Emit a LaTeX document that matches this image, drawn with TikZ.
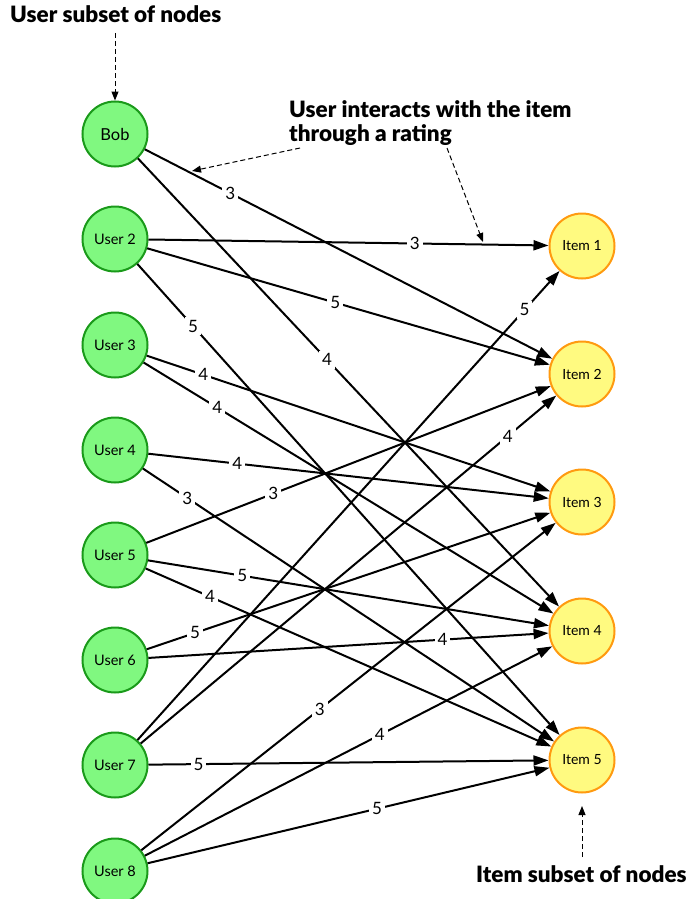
\documentclass[tikz,border=0pt]{standalone}
\usepackage{fontspec}
\setmainfont{Lato}
\newfontfamily\heavyfont{Lato Black}
\usetikzlibrary{arrows.meta}
\definecolor{usrfill}{HTML}{80F880}
\definecolor{usrdraw}{HTML}{1A9A1A}
\definecolor{itmfill}{HTML}{FFFA80}
\definecolor{itmdraw}{HTML}{FF9A10}
\tikzset{
  usr/.style={circle, minimum size=65pt, inner sep=0pt, line width=2pt,
    draw=usrdraw, fill=usrfill, font=\fontsize{14.5}{16}\selectfont},
  itm/.style={circle, minimum size=65pt, inner sep=0pt, line width=2pt,
    draw=itmdraw, fill=itmfill, font=\fontsize{14}{16}\selectfont},
  rating/.style={line width=2pt, -{Triangle[length=15pt,width=10pt]}},
  lbl/.style={fill=white, inner sep=3pt, font=\fontsize{17}{19}\selectfont},
  note/.style={font=\heavyfont\fontsize{22.5}{23.5}\selectfont, inner sep=0pt},
  pointer/.style={dashed, line width=1pt, dash pattern=on 5pt off 3pt,
    -{Triangle[length=9pt,width=7pt]}},
}
\begin{document}
\begin{tikzpicture}[x=1pt,y=-1pt]
\useasboundingbox (0,0) rectangle (690,899);

% users (left column)
\node[usr, font=\fontsize{16.5}{18}\selectfont] (bob) at (115,134) {Bob};
\node[usr] (u2) at (115,239) {User 2};
\node[usr] (u3) at (115,345) {User 3};
\node[usr] (u4) at (115,450) {User 4};
\node[usr] (u5) at (115,555) {User 5};
\node[usr] (u6) at (115,660) {User 6};
\node[usr] (u7) at (115,765) {User 7};
\node[usr] (u8) at (115,871) {User 8};

% items (right column)
\node[itm] (i1) at (582,246) {Item 1};
\node[itm] (i2) at (582,374) {Item 2};
\node[itm] (i3) at (582,502) {Item 3};
\node[itm] (i4) at (582,631) {Item 4};
\node[itm] (i5) at (582,760) {Item 5};

% ratings
\draw[rating] (bob) -- node[lbl,pos=0.21] {3} (i2);
\draw[rating] (bob) -- node[lbl,pos=0.449] {4} (i4);
\draw[rating] (u2) -- node[lbl,pos=0.666] {3} (i1);
\draw[rating] (u2) -- node[lbl,pos=0.467] {5} (i2);
\draw[rating] (u2) -- node[lbl,pos=0.132] {5} (i5);
\draw[rating] (u3) -- node[lbl,pos=0.14] {4} (i3);
\draw[rating] (u3) -- node[lbl,pos=0.18] {4} (i4);
\draw[rating] (u4) -- node[lbl,pos=0.222] {4} (i3);
\draw[rating] (u4) -- node[lbl,pos=0.108] {3} (i5);
\draw[rating] (u5) -- node[lbl,pos=0.314] {3} (i2);
\draw[rating] (u5) -- node[lbl,pos=0.235] {5} (i4);
\draw[rating] (u5) -- node[lbl,pos=0.159] {4} (i5);
\draw[rating] (u6) -- node[lbl,pos=0.12] {5} (i3);
\draw[rating] (u6) -- node[lbl,pos=0.735] {4} (i4);
\draw[rating] (u7) -- node[lbl,pos=0.917] {5} (i1);
\draw[rating] (u7) -- node[lbl,pos=0.883] {4} (i2);
\draw[rating] (u7) -- node[lbl,pos=0.125] {5} (i5);
\draw[rating] (u8) -- node[lbl,pos=0.431] {3} (i3);
\draw[rating] (u8) -- node[lbl,pos=0.577] {4} (i4);
\draw[rating] (u8) -- node[lbl,pos=0.571] {5} (i5);

% annotations
\node[note, anchor=base west] (usernote) at (10,23) {User subset of nodes};
\coordinate (usertail) at (115,33);
\draw[pointer] (usertail) -- (bob.north);

\node[note, anchor=north west, align=left] (ratenote) at (289,100.5)
  {User interacts with the item\\through a rating};
\coordinate (ratetailA) at (300,148);
\coordinate (ratetipA) at (192,171);
\coordinate (ratetailB) at (447,148);
\coordinate (ratetipB) at (483,242);
\draw[pointer] (ratetailA) -- (ratetipA);
\draw[pointer] (ratetailB) -- (ratetipB);

\node[note, anchor=base west] (itemnote) at (476,882) {Item subset of nodes};
\coordinate (itemtail) at (582,857);
\coordinate (itemtip) at (582,806);
\draw[pointer] (itemtail) -- (itemtip);
\end{tikzpicture}
\end{document}
